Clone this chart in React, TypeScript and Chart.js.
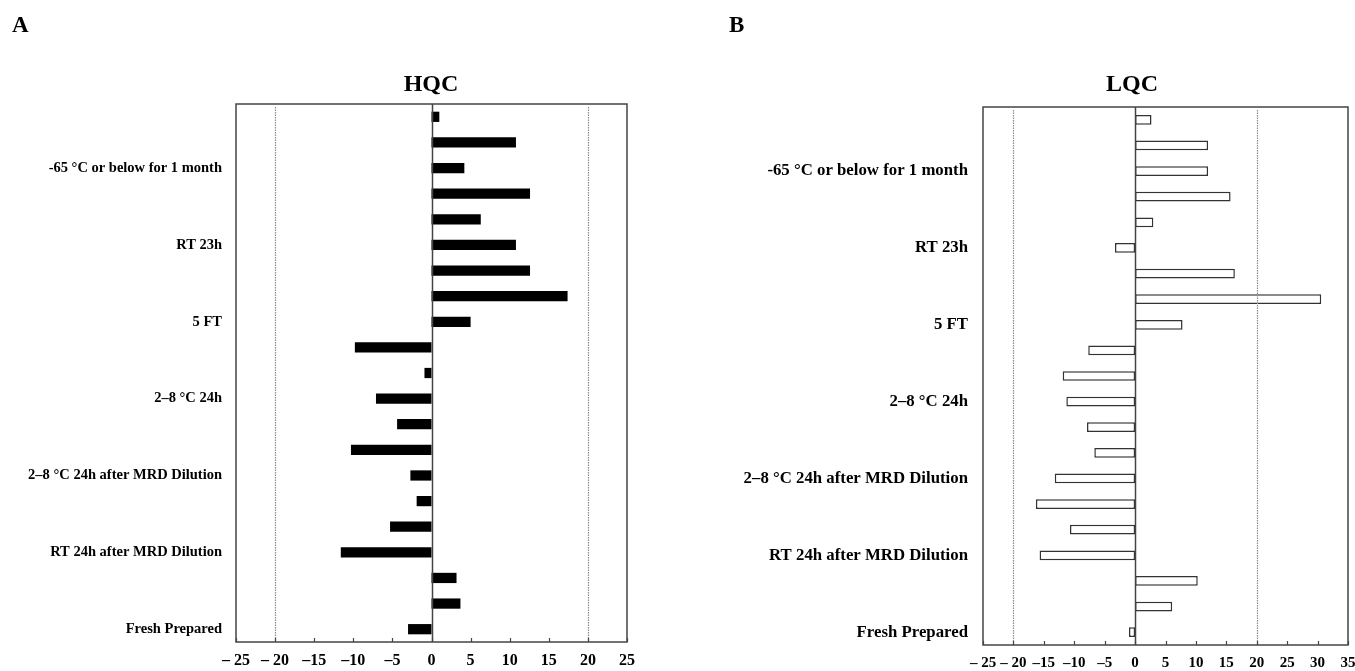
import React, { useEffect, useRef } from "react";
import { Chart, registerables } from "chart.js";

Chart.register(...registerables);

// Storage conditions, top to bottom; three replicates each, label on the last one
const conditions = [
  "-65 °C or below for 1 month",
  "RT 23h",
  "5 FT",
  "2–8 °C 24h",
  "2–8 °C 24h after MRD Dilution",
  "RT 24h after MRD Dilution",
  "Fresh Prepared",
];
const replicatesPerCondition = 3;

// % bias values, top bar to bottom bar
const hqcValues = [
  1.0, 10.8, 4.2,
  12.6, 6.3, 10.8,
  12.6, 17.4, 5.0,
  -9.8, -0.9, -7.1,
  -4.4, -10.3, -2.7,
  -1.9, -5.3, -11.6,
  3.2, 3.7, -3.0,
];
const lqcValues = [
  2.7, 12.0, 12.0,
  15.7, 3.0, -3.3,
  16.4, 30.6, 7.8,
  -7.7, -11.9, -11.3,
  -7.9, -6.7, -13.2,
  -16.3, -10.7, -15.7,
  10.3, 6.1, -1.0,
];

const hqcAxis = { min: -25, max: 25, step: 5 };
const lqcAxis = { min: -25, max: 35, step: 5 };
const limitLines = [-20, 20];

const SERIF = "'Liberation Serif', 'Times New Roman', serif";

function buildLabels(): string[] {
  const out: string[] = [];
  conditions.forEach((c) => {
    for (let i = 0; i < replicatesPerCondition; i++) {
      out.push(i === replicatesPerCondition - 1 ? c : "");
    }
  });
  return out;
}

function fmtTick(v: number): string {
  if (v < 0) {
    const a = Math.abs(v);
    return a >= 20 ? "– " + a : "–" + a;
  }
  return String(v);
}

const framePlugin = {
  id: "frame",
  afterDatasetsDraw(chart: any) {
    const { ctx, chartArea: a, scales } = chart;
    const x = scales.x;
    ctx.save();
    // limit lines (dotted)
    ctx.strokeStyle = "#8c8c8c";
    ctx.lineWidth = 1.2;
    ctx.setLineDash([1.5, 1]);
    for (const v of limitLines) {
      const px = Math.round(x.getPixelForValue(v)) + 0.5;
      ctx.beginPath();
      ctx.moveTo(px, a.top + 3);
      ctx.lineTo(px, a.bottom);
      ctx.stroke();
    }
    ctx.setLineDash([]);
    // zero line
    const z = Math.round(x.getPixelForValue(0)) + 0.5;
    ctx.strokeStyle = "#444";
    ctx.lineWidth = 1.5;
    ctx.beginPath();
    ctx.moveTo(z, a.top);
    ctx.lineTo(z, a.bottom);
    ctx.stroke();
    // box
    ctx.strokeStyle = "#444";
    ctx.lineWidth = 1.5;
    ctx.strokeRect(a.left, a.top, a.right - a.left, a.bottom - a.top);
    // inward tick marks on bottom axis
    ctx.lineWidth = 1.2;
    for (const t of x.ticks) {
      const px = Math.round(x.getPixelForValue(t.value)) + 0.5;
      ctx.beginPath();
      ctx.moveTo(px, a.bottom);
      ctx.lineTo(px, a.bottom - 4);
      ctx.stroke();
    }
    ctx.restore();
  },
};

type PanelProps = {
  values: number[];
  axis: { min: number; max: number; step: number };
  filled: boolean;
  width: number;
  yAxisWidth: number;
  labelPad: number;
  padTop: number;
  padRight: number;
  xAxisHeight: number;
  labelFont: number;
  tickFont: number;
};

function Panel(p: PanelProps) {
  const ref = useRef<HTMLCanvasElement | null>(null);
  useEffect(() => {
    if (!ref.current) return;
    const chart = new Chart(ref.current, {
      type: "bar",
      data: {
        labels: buildLabels(),
        datasets: [
          {
            data: p.values,
            backgroundColor: p.filled ? "#000000" : "#ffffff",
            borderColor: p.filled ? "#000000" : "#333333",
            borderWidth: p.filled ? 0 : 1.5,
            borderSkipped: false,
            barPercentage: p.filled ? 0.4 : 0.38,
            categoryPercentage: 1,
          },
        ],
      },
      options: {
        indexAxis: "y",
        responsive: false,
        animation: false,
        devicePixelRatio: 1,
        layout: { padding: { left: 0, right: p.padRight, top: p.padTop, bottom: 0 } },
        plugins: { legend: { display: false }, tooltip: { enabled: false }, title: { display: false } },
        scales: {
          x: {
            type: "linear",
            min: p.axis.min,
            max: p.axis.max,
            grid: { display: false, drawTicks: false },
            border: { display: false },
            ticks: {
              stepSize: p.axis.step,
              autoSkip: false,
              padding: 9,
              color: "#000",
              font: { family: SERIF, size: p.tickFont, weight: "bold" },
              callback: (v: any) => fmtTick(Number(v)),
              maxRotation: 0,
              minRotation: 0,
            },
            afterFit: (s: any) => {
              s.height = p.xAxisHeight;
              s.paddingLeft = 0;
              s.paddingRight = 0;
            },
          },
          y: {
            type: "category",
            grid: { display: false, drawTicks: false },
            border: { display: false },
            ticks: {
              autoSkip: false,
              padding: p.labelPad,
              color: "#000",
              font: { family: SERIF, size: p.labelFont, weight: "bold" },
            },
            afterFit: (s: any) => {
              s.width = p.yAxisWidth;
              s.paddingTop = 0;
              s.paddingBottom = 0;
            },
          },
        },
      },
      plugins: [framePlugin],
    } as any);
    return () => chart.destroy();
  }, []);
  return <canvas ref={ref} width={p.width} height={671} style={{ display: "block" }} />;
}

const textStyle: React.CSSProperties = {
  position: "absolute",
  fontFamily: SERIF,
  fontWeight: "bold",
  color: "#000",
  lineHeight: 1,
  whiteSpace: "nowrap",
};

export default function App() {
  return (
    <div
      style={{
        position: "fixed",
        left: 0,
        top: 0,
        width: 1355,
        height: 671,
        background: "#fff",
        overflow: "hidden",
      }}
    >
      <div style={{ position: "absolute", left: 0, top: 0 }}>
        <Panel
          values={hqcValues}
          axis={hqcAxis}
          filled={true}
          width={680}
          yAxisWidth={236}
          labelPad={14}
          padTop={104}
          padRight={53}
          xAxisHeight={29}
          labelFont={14.5}
          tickFont={16}
        />
      </div>
      <div style={{ position: "absolute", left: 680, top: 0 }}>
        <Panel
          values={lqcValues}
          axis={lqcAxis}
          filled={false}
          width={675}
          yAxisWidth={303}
          labelPad={15}
          padTop={107}
          padRight={7}
          xAxisHeight={26}
          labelFont={16.8}
          tickFont={15}
        />
      </div>
      <div style={{ ...textStyle, left: 12, top: 13, fontSize: 23 }}>A</div>
      <div style={{ ...textStyle, left: 729, top: 13, fontSize: 23 }}>B</div>
      <div style={{ ...textStyle, left: 431, top: 71, fontSize: 24, transform: "translateX(-50%)" }}>HQC</div>
      <div style={{ ...textStyle, left: 1132, top: 71, fontSize: 24, transform: "translateX(-50%)" }}>LQC</div>
    </div>
  );
}
